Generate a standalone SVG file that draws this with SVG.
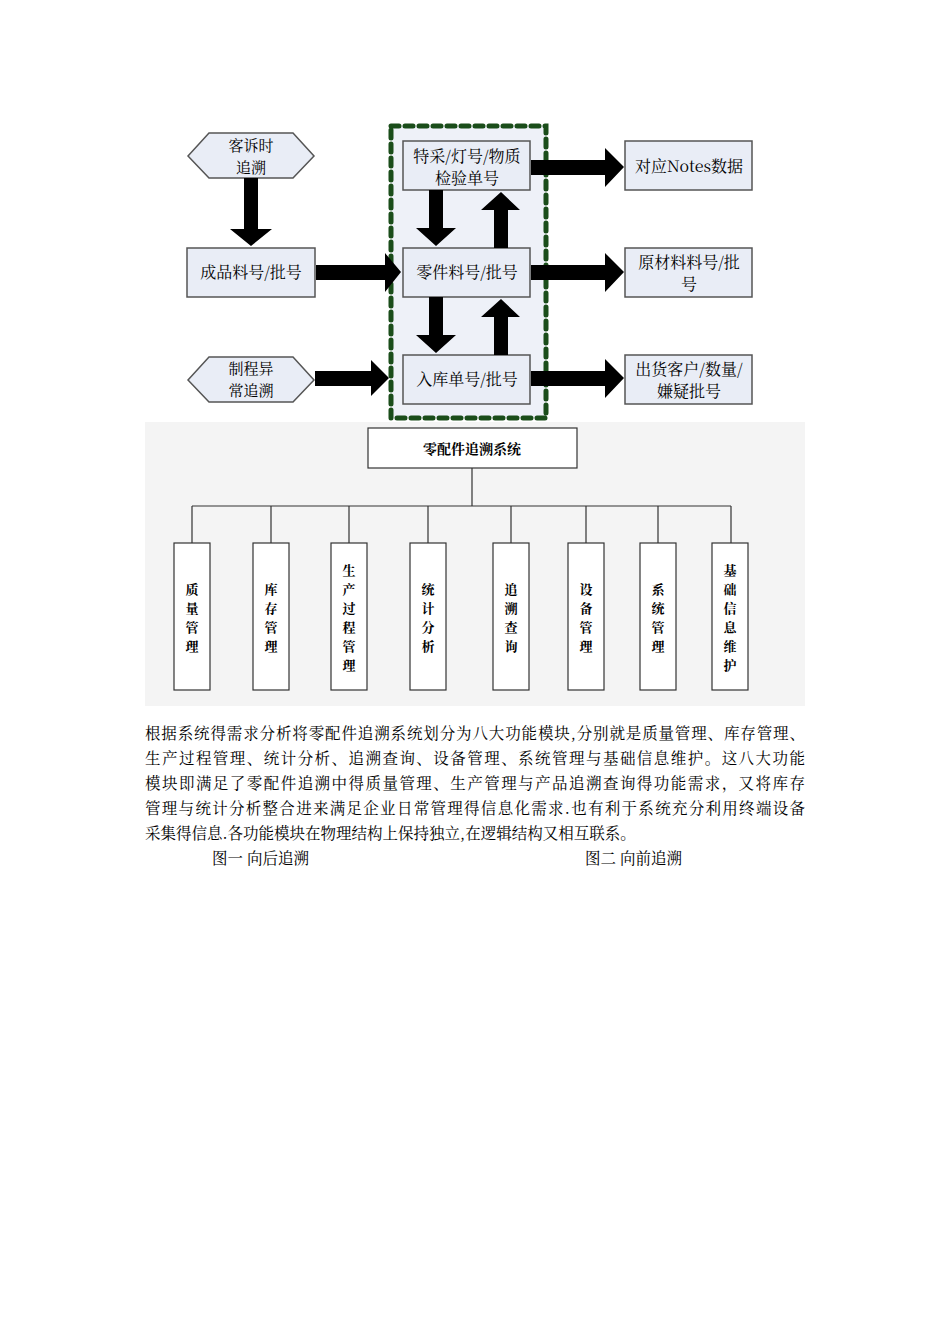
<svg xmlns="http://www.w3.org/2000/svg" width="950" height="1344" viewBox="0 0 950 1344">
<style>
text{font-family:"Noto Serif CJK SC","Noto Sans CJK SC",serif;fill:#000}
.n{fill:#e9edf6;stroke:#555;stroke-width:1.5}
.t{font-size:16px;text-anchor:middle}
.h{font-size:15px;text-anchor:middle}
.b{fill:#fff;stroke:#333;stroke-width:1.2}
.v{font-size:13px;text-anchor:middle;font-weight:bold}
.l{stroke:#333;stroke-width:1.2;fill:none}
.p{font-size:15.5px}
</style>
<rect width="950" height="1344" fill="#fff"/>
<rect x="391" y="126" width="155" height="292" fill="#eef1f8" stroke="#1a4d1a" stroke-width="5" stroke-dasharray="8,6" stroke-linecap="round"/>
<g id="hex1"><polygon class="n" points="188,156 209,133 293,133 314,156 293,178 209,178"/><text class="h" x="251" y="151">客诉时</text><text class="h" x="251" y="173">追溯</text></g>
<g id="cp"><rect class="n" x="187" y="248" width="128" height="49"/><text class="t" x="251" y="278">成品料号/批号</text></g>
<g id="hex2"><polygon class="n" points="188,380 209,357 293,357 314,380 293,402 209,402"/><text class="h" x="251" y="374">制程异</text><text class="h" x="251" y="396">常追溯</text></g>
<g id="tc"><rect class="n" x="403" y="141" width="127" height="49"/><text class="t" x="467" y="162">特采/灯号/物质</text><text class="t" x="467" y="184">检验单号</text></g>
<g id="lj"><rect class="n" x="403" y="248" width="127" height="49"/><text class="t" x="467" y="278">零件料号/批号</text></g>
<g id="rk"><rect class="n" x="403" y="355" width="127" height="49"/><text class="t" x="467" y="385">入库单号/批号</text></g>
<g id="r1"><rect class="n" x="625" y="141" width="127" height="49"/><text class="t" x="689" y="172">对应Notes数据</text></g>
<g id="r2"><rect class="n" x="625" y="248" width="127" height="49"/><text class="t" x="689" y="268">原材料料号/批</text><text class="t" x="689" y="290">号</text></g>
<g id="r3"><rect class="n" x="625" y="355" width="127" height="49"/><text class="t" x="689" y="375">出货客户/数量/</text><text class="t" x="689" y="397">嫌疑批号</text></g>
<g id="arrows" fill="#000">
<polygon points="244,178 258,178 258,229 272,229 251,246 230,229 244,229"/>
<polygon points="316,265 385,265 385,253 401,272 385,292 385,280 316,280"/>
<polygon points="315,371 371,371 371,360 389,378 371,396 371,386 315,386"/>
<polygon points="429,190 443,190 443,228 456,228 436,246 416,228 429,228"/>
<polygon points="494,248 508,248 508,210 520,210 501,192 481,210 494,210"/>
<polygon points="429,297 443,297 443,335 456,335 436,353 416,335 429,335"/>
<polygon points="494,355 508,355 508,317 520,317 501,299 481,317 494,317"/>
<polygon points="531,160 605,160 605,148 624,167 605,187 605,175 531,175"/>
<polygon points="531,265 605,265 605,253 624,272 605,292 605,280 531,280"/>
<polygon points="531,371 605,371 605,359 624,378 605,398 605,386 531,386"/>
</g>
<rect x="145" y="422" width="660" height="284" fill="#f4f4f4"/>
<g id="root"><rect class="b" x="368" y="428" width="209" height="40"/><text x="472" y="454" font-size="14" font-weight="bold" text-anchor="middle">零配件追溯系统</text></g>
<g id="tree" class="l"><path d="M472,468V506M192,506H731M192,506V543M271,506V543M349,506V543M428,506V543M511,506V543M586,506V543M658,506V543M731,506V543"/></g>
<g id="m1"><rect class="b" x="174" y="543" width="36" height="147"/><text class="v" x="192" y="594">质</text><text class="v" x="192" y="613">量</text><text class="v" x="192" y="632">管</text><text class="v" x="192" y="651">理</text></g>
<g id="m2"><rect class="b" x="253" y="543" width="36" height="147"/><text class="v" x="271" y="594">库</text><text class="v" x="271" y="613">存</text><text class="v" x="271" y="632">管</text><text class="v" x="271" y="651">理</text></g>
<g id="m3"><rect class="b" x="331" y="543" width="36" height="147"/><text class="v" x="349" y="575">生</text><text class="v" x="349" y="594">产</text><text class="v" x="349" y="613">过</text><text class="v" x="349" y="632">程</text><text class="v" x="349" y="651">管</text><text class="v" x="349" y="670">理</text></g>
<g id="m4"><rect class="b" x="410" y="543" width="36" height="147"/><text class="v" x="428" y="594">统</text><text class="v" x="428" y="613">计</text><text class="v" x="428" y="632">分</text><text class="v" x="428" y="651">析</text></g>
<g id="m5"><rect class="b" x="493" y="543" width="36" height="147"/><text class="v" x="511" y="594">追</text><text class="v" x="511" y="613">溯</text><text class="v" x="511" y="632">查</text><text class="v" x="511" y="651">询</text></g>
<g id="m6"><rect class="b" x="568" y="543" width="36" height="147"/><text class="v" x="586" y="594">设</text><text class="v" x="586" y="613">备</text><text class="v" x="586" y="632">管</text><text class="v" x="586" y="651">理</text></g>
<g id="m7"><rect class="b" x="640" y="543" width="36" height="147"/><text class="v" x="658" y="594">系</text><text class="v" x="658" y="613">统</text><text class="v" x="658" y="632">管</text><text class="v" x="658" y="651">理</text></g>
<g id="m8"><rect class="b" x="712" y="543" width="36" height="147"/><text class="v" x="730" y="575">基</text><text class="v" x="730" y="594">础</text><text class="v" x="730" y="613">信</text><text class="v" x="730" y="632">息</text><text class="v" x="730" y="651">维</text><text class="v" x="730" y="670">护</text></g>
<text class="p" x="145" y="739" textLength="660">根据系统得需求分析将零配件追溯系统划分为八大功能模块,分别就是质量管理、库存管理、</text>
<text class="p" x="145" y="764" textLength="660">生产过程管理、统计分析、追溯查询、设备管理、系统管理与基础信息维护。这八大功能</text>
<text class="p" x="145" y="789" textLength="660">模块即满足了零配件追溯中得质量管理、生产管理与产品追溯查询得功能需求，又将库存</text>
<text class="p" x="145" y="814" textLength="660">管理与统计分析整合进来满足企业日常管理得信息化需求.也有利于系统充分利用终端设备</text>
<text class="p" x="145" y="839">采集得信息.各功能模块在物理结构上保持独立,在逻辑结构又相互联系。</text>
<text class="p" x="212" y="864">图一 向后追溯</text>
<text class="p" x="585" y="864">图二 向前追溯</text>
</svg>
